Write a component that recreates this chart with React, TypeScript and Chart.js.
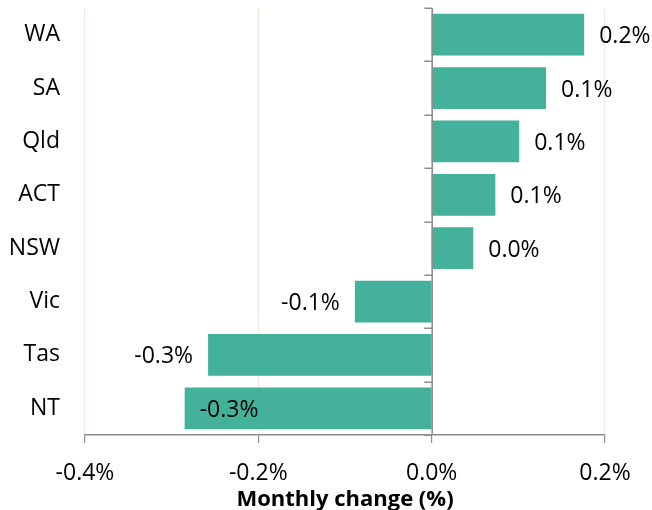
import { useEffect, useRef } from 'react';
import { Chart, registerables } from 'chart.js';

Chart.register(...registerables);

const categories = ['WA', 'SA', 'Qld', 'ACT', 'NSW', 'Vic', 'Tas', 'NT'];
const values = [0.176, 0.132, 0.101, 0.0735, 0.048, -0.0886, -0.258, -0.285];
const valueLabels = ['0.2%', '0.1%', '0.1%', '0.1%', '0.0%', '-0.1%', '-0.3%', '-0.3%'];
const xMin = -0.4;
const xMax = 0.2;
const xStep = 0.2;
const axisTitle = 'Monthly change (%)';

const FONT = '"Open Sans", "Liberation Sans", sans-serif';
const BAR = '#44b29a';
const AXIS = '#8e8e8e';
const GRID = '#ece9dd';

const zeroAxisPlugin = {
  id: 'zeroAxis',
  afterDatasetsDraw(chart: any) {
    const ctx = chart.ctx;
    const xs = chart.scales.x;
    const ys = chart.scales.y;
    const area = chart.chartArea;
    const x0 = Math.round(xs.getPixelForValue(0)) + 0.25;
    ctx.save();
    ctx.strokeStyle = AXIS;
    ctx.lineWidth = 1.5;
    ctx.beginPath();
    ctx.moveTo(x0, area.top);
    ctx.lineTo(x0, area.bottom);
    for (let i = 0; i <= categories.length; i++) {
      const y = Math.round(ys.getPixelForValue(i - 0.5)) + 0.25;
      ctx.moveTo(x0 - 8, y);
      ctx.lineTo(x0, y);
    }
    ctx.stroke();
    ctx.restore();
  },
};

const barLabelsPlugin = {
  id: 'barLabels',
  afterDatasetsDraw(chart: any) {
    const ctx = chart.ctx;
    const meta = chart.getDatasetMeta(0);
    ctx.save();
    ctx.font = `23px ${FONT}`;
    ctx.fillStyle = '#000';
    ctx.textBaseline = 'middle';
    const gap = 15;
    meta.data.forEach((bar: any, i: number) => {
      const text = valueLabels[i];
      const w = ctx.measureText(text).width;
      const v = values[i];
      const y = bar.y + 2;
      if (v >= 0) {
        ctx.textAlign = 'left';
        ctx.fillText(text, bar.x + gap, y);
      } else if (bar.x - gap - w < chart.chartArea.left + 40) {
        ctx.textAlign = 'left';
        ctx.fillText(text, bar.x + gap, y);
      } else {
        ctx.textAlign = 'right';
        ctx.fillText(text, bar.x - gap, y);
      }
    });
    ctx.restore();
  },
};

export default function App() {
  const ref = useRef<HTMLCanvasElement | null>(null);

  useEffect(() => {
    if (!ref.current) return;
    const chart = new Chart(ref.current, {
      type: 'bar',
      data: {
        labels: categories,
        datasets: [
          {
            data: values,
            backgroundColor: BAR,
            borderWidth: 0,
            barPercentage: 0.78,
            categoryPercentage: 1,
          },
        ],
      },
      options: {
        indexAxis: 'y',
        responsive: false,
        animation: false,
        layout: { padding: { top: 8, right: 47, left: 0, bottom: 0 } },
        plugins: {
          legend: { display: false },
          tooltip: { enabled: false },
          title: { display: false },
        },
        scales: {
          x: {
            type: 'linear',
            min: xMin,
            max: xMax,
            afterFit: (scale: any) => {
              scale.height = 75;
              scale.paddingTop = 0;
              scale.paddingBottom = 0;
            },
            ticks: {
              stepSize: xStep,
              color: '#000',
              font: { family: FONT, size: 23 },
              padding: 17,
              maxRotation: 0,
              callback: (v: any) => `${Number(v).toFixed(1)}%`,
            },
            grid: {
              color: (c: any) => (c.tick && c.tick.value === 0 ? 'rgba(0,0,0,0)' : GRID),
              tickColor: AXIS,
              tickLength: 8,
              lineWidth: 1.2,
            },
            border: { color: AXIS, width: 1.5 },
            title: {
              display: true,
              text: axisTitle,
              color: '#000',
              font: { family: FONT, size: 22, weight: 'bold' },
              padding: { top: 0, bottom: -3 },
            },
          },
          y: {
            type: 'category',
            position: 'left',
            afterFit: (scale: any) => {
              scale.width = 85;
              scale.paddingTop = 0;
              scale.paddingBottom = 0;
            },
            grid: { display: false, drawTicks: false },
            border: { display: false },
            ticks: {
              color: '#000',
              font: { family: FONT, size: 23 },
              padding: 25,
            },
          },
        },
      } as any,
      plugins: [zeroAxisPlugin, barLabelsPlugin],
    });
    return () => chart.destroy();
  }, []);

  return (
    <div style={{ position: 'fixed', left: 0, top: 0, width: 652, height: 510, background: '#fff' }}>
      <canvas ref={ref} width={652} height={510} style={{ display: 'block' }} />
    </div>
  );
}
